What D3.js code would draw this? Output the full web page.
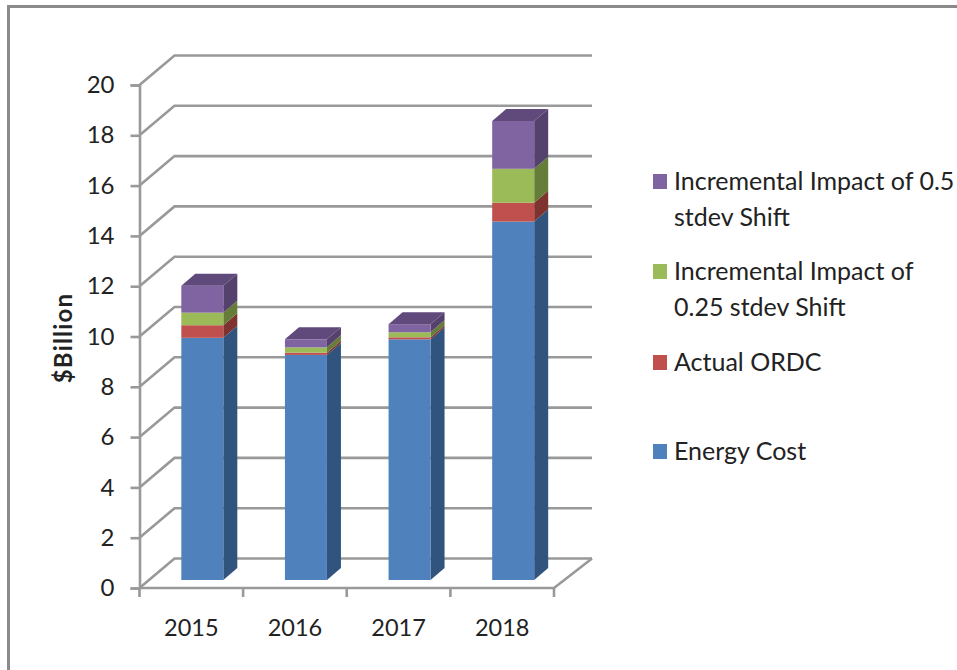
<!DOCTYPE html>
<html>
<head>
<meta charset="utf-8">
<script src="https://cdn.jsdelivr.net/npm/d3@7"></script>
<style>
  html, body { margin: 0; padding: 0; background: #fff; }
  svg { display: block; }
  text { font-family: Lato, "Open Sans", sans-serif; fill: #222; }
</style>
</head>
<body>
<div id="chart"></div>
<script>
// Chart values, in $Billion, stacked from the bottom up
const years = ["2015", "2016", "2017", "2018"];
const energyCost = [9.63, 8.95, 9.57, 14.25];
const actualOrdc = [0.5, 0.09, 0.08, 0.75];
const impactQuarter = [0.5, 0.21, 0.2, 1.35];
const impactHalf = [1.07, 0.32, 0.32, 1.9];
const yTicks = [0, 2, 4, 6, 8, 10, 12, 14, 16, 18, 20];

const seriesNames = ["Energy Cost", "Actual ORDC", "Incremental Impact of 0.25 stdev Shift", "Incremental Impact of 0.5 stdev Shift"];
const seriesValues = [energyCost, actualOrdc, impactQuarter, impactHalf];
const frontColors = ["#4f81bd", "#c0504d", "#9bbb59", "#8064a2"];
const sideColors = ["#30547e", "#7f3331", "#667c39", "#54416c"];
const topColor = "#5f4a7b";

// Legend rows, top to bottom, with their wrapped lines
const legendRows = [
  { series: 3, lines: ["Incremental Impact of 0.5", "stdev Shift"], y: 181 },
  { series: 2, lines: ["Incremental Impact of", "0.25 stdev Shift"], y: 271 },
  { series: 1, lines: ["Actual ORDC"], y: 362 },
  { series: 0, lines: ["Energy Cost"], y: 451 }
];

const width = 957, height = 670;
const svg = d3.select("#chart").append("svg").attr("width", width).attr("height", height);

// Frame around the chart area, open on the right and at the bottom
svg.append("path")
  .attr("d", d3.line()([[8.5, height], [8.5, 6.5], [width, 6.5]]))
  .attr("fill", "none").attr("stroke", "#8a8a8a").attr("stroke-width", 3);

const x = d3.scaleBand().domain(years).range([139.5, 554]);
const y = d3.scaleLinear().domain([0, 20]).range([588, 85]);

// Pseudo-3D projection: wall depth, bar depth and the bars' inset from the front edge
const wallDx = 35, wallDy = -29.5;
const barDx = 14, barDy = -12;
const barInsetX = 11, barInsetY = -8;
const barWidth = 42;

const gridColor = "#999999";
const gridG = svg.append("g").attr("fill", "none").attr("stroke", gridColor).attr("stroke-width", 2.6);

// Side wall and back wall lines at each tick
gridG.selectAll("path.grid").data(yTicks).join("path").attr("class", "grid")
  .attr("d", t => d3.line()([
    [x.range()[0], y(t)],
    [x.range()[0] + wallDx, y(t) + wallDy],
    [x.range()[1] + wallDx + 3, y(t) + wallDy]
  ]));

// Floor: front edge and right edge
gridG.append("path").attr("d", d3.line()([
  [x.range()[0], y(0)],
  [x.range()[1], y(0)],
  [x.range()[1] + wallDx + 3, y(0) + wallDy]
]));

// Value axis
const yAxis = svg.append("g").attr("transform", `translate(${x.range()[0]},0)`)
  .call(d3.axisLeft(y).tickValues(yTicks).tickSize(9).tickPadding(16));
yAxis.selectAll("path, line").attr("stroke", gridColor).attr("stroke-width", 2.6);
yAxis.selectAll("text").style("font-size", "24px").attr("fill", "#222");

// Category axis with ticks between the categories
const xAxis = svg.append("g").attr("transform", `translate(0,${y(0)})`)
  .call(d3.axisBottom(x).tickSize(0).tickPadding(31));
xAxis.select("path").remove();
xAxis.selectAll("text").style("font-size", "23.5px").attr("fill", "#222");
svg.append("g").selectAll("line")
  .data(years.map(d => x(d)).concat(x.range()[1]))
  .join("line")
  .attr("x1", d => d).attr("x2", d => d)
  .attr("y1", y(0)).attr("y2", y(0) + 9)
  .attr("stroke", gridColor).attr("stroke-width", 2.6);

// Axis title
svg.append("text")
  .attr("transform", "translate(72,338) rotate(-90)")
  .attr("text-anchor", "middle")
  .style("font-size", "24px").style("font-weight", "700")
  .style("letter-spacing", "1.2px")
  .text("$Billion");

// Stacked bars: front face and side face per segment, one top face per bar
const stack = d3.stack().keys(d3.range(seriesValues.length)).value((yearIndex, s) => seriesValues[s][yearIndex]);
const layers = stack(d3.range(years.length));

const barLeft = i => x(years[i]) + (x.bandwidth() - barWidth) / 2 + barInsetX;
const barY = v => y(v) + barInsetY;

layers.forEach((layer, s) => {
  const g = svg.append("g").attr("class", "series");
  layer.forEach((seg, i) => {
    const x0 = barLeft(i), x1 = x0 + barWidth;
    const yb = barY(seg[0]), yt = barY(seg[1]);
    g.append("path")
      .attr("fill", sideColors[s])
      .attr("d", d3.line()([[x1, yb], [x1 + barDx, yb + barDy], [x1 + barDx, yt + barDy], [x1, yt]]) + "Z");
    g.append("rect")
      .attr("x", x0).attr("y", yt)
      .attr("width", barWidth).attr("height", yb - yt)
      .attr("fill", frontColors[s]);
  });
});

const topLayer = layers[layers.length - 1];
svg.append("g").selectAll("path").data(topLayer).join("path")
  .attr("fill", topColor)
  .attr("d", (seg, i) => {
    const x0 = barLeft(i), x1 = x0 + barWidth, yt = barY(seg[1]);
    return d3.line()([[x0, yt], [x0 + barDx, yt + barDy], [x1 + barDx, yt + barDy], [x1, yt]]) + "Z";
  });

// Legend
const legend = svg.append("g");
legendRows.forEach(row => {
  legend.append("rect")
    .attr("x", 653).attr("y", row.y - 7)
    .attr("width", 14).attr("height", 15)
    .attr("fill", frontColors[row.series]);
  row.lines.forEach((line, k) => {
    legend.append("text")
      .attr("x", 674).attr("y", row.y + 9 + k * 36)
      .style("font-size", "25px")
      .text(line);
  });
});
</script>
</body>
</html>
